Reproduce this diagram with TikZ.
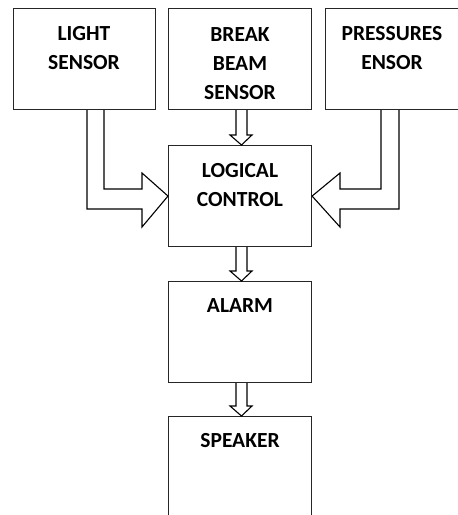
\documentclass[tikz,border=0pt]{standalone}
\usepackage{fontspec}
\setmainfont{Carlito}
\usetikzlibrary{calc}
\begin{document}
\begin{tikzpicture}[x=1pt,y=-1pt,
  box/.style={draw=black!85,line width=1.1pt,fill=white,minimum width=143pt,minimum height=101pt,inner sep=0pt,anchor=north west},
  lbl/.style={anchor=base,align=center,font=\fontsize{21.5}{29}\selectfont\bfseries,inner sep=0pt},
  blk/.style={draw=black,line width=1.1pt,fill=white,line join=miter}]
\useasboundingbox (0,0) rectangle (458,515);
\clip (0,0) rectangle (458,515);
% boxes
\node[box,minimum width=142pt] (light) at (13,8) {};
\node[box] (beam) at (168,8) {};
\node[box,minimum width=140pt] (press) at (325,8) {};
\node[box] (logic) at (168,145) {};
\node[box] (alarm) at (168,281) {};
\node[box,minimum height=110pt] (spk) at (168,416) {};
% labels (anchor = baseline of last line)
\node[lbl] (tlight) at (84,69) {LIGHT\\SENSOR};
\node[lbl] (tbeam) at (240,99) {BREAK\\BEAM\\SENSOR};
\node[lbl] (tpress) at (392,69) {PRESSURES\\ENSOR};
\node[lbl] (tlogic) at (240,206) {LOGICAL\\CONTROL};
\node[lbl] (talarm) at (240,312) {ALARM};
\node[lbl] (tspk) at (240,447) {SPEAKER};
% straight block arrows
\foreach \a/\b in {beam/logic,logic/alarm,alarm/spk}{
  \coordinate (h) at ($(\b.north)+(0,-10)$);
  \draw[blk] (236,0 |- \a.south) -- (236,0 |- h)
    -- (230,0 |- h) -- (241.5,0 |- \b.north)
    -- (252,0 |- h) -- (247,0 |- h)
    -- (247,0 |- \a.south);
}
% light sensor L-arrow
\draw[blk] (87,0 |- light.south) -- (87,209) -- (142,209) -- (142,227)
  -- (logic.west) -- (142,173) -- (142,189) -- (104,189) -- (104,0 |- light.south);
% pressure sensor L-arrow
\draw[blk] (399,0 |- press.south) -- (399,209) -- (340,209) -- (340,227)
  -- (logic.east) -- (340,173) -- (340,189) -- (381,189) -- (381,0 |- press.south);
\end{tikzpicture}
\end{document}
